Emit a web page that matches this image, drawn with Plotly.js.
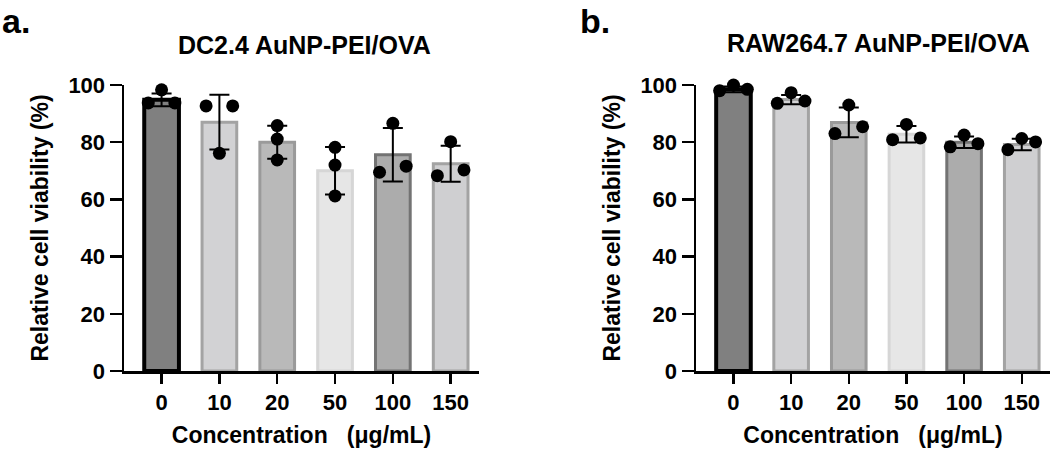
<!DOCTYPE html>
<html>
<head>
<meta charset="utf-8">
<script src="https://cdn.plot.ly/plotly-3.0.1.min.js"></script>
<style>html,body{margin:0;padding:0;background:#fff;}#chart{width:1063px;height:449px;}</style>
</head>
<body>
<div id="chart"></div>
<script>
// ---- data ----
const categories = ["0", "10", "20", "50", "100", "150"];

// Panel a: DC2.4 AuNP-PEI/OVA
const meanA = [94.8, 87.0, 80.0, 70.0, 75.6, 72.5];
const sdA   = [2.2, 9.55, 5.75, 8.3, 9.35, 6.3];
const pointsA = [
  [93.7, 98.3, 93.7],
  [92.7, 76.1, 92.7],
  [85.8, 81.1, 73.8],
  [78.2, 72.0, 61.2],
  [69.5, 86.6, 71.6],
  [68.3, 80.2, 70.3]
];

// Panel b: RAW264.7 AuNP-PEI/OVA
const meanB = [98.5, 94.9, 86.9, 82.8, 80.0, 79.2];
const sdB   = [1.0, 1.6, 5.2, 2.9, 2.0, 2.0];
const pointsB = [
  [98.0, 100.0, 98.5],
  [93.6, 97.3, 94.4],
  [83.0, 93.0, 85.4],
  [80.9, 86.2, 81.5],
  [78.4, 82.5, 79.5],
  [77.4, 81.3, 80.1]
];

// ---- style ----
const jitterA = [[-0.23,0,0.23],[-0.23,0,0.23],[0,0,0],[0,0,0],[-0.23,0,0.23],[-0.23,0,0.23]];
const jitterB = [[-0.24,0,0.24],[-0.24,0,0.24],[-0.24,0,0.24],[-0.24,0,0.24],[-0.24,0,0.24],[-0.24,0,0.24]];
const fillColors = ["#808080", "#d2d2d4", "#b9b9b9", "#e6e6e6", "#acacac", "#cfcfd1"];
const lineColors = ["#000000", "#a3a3a3", "#9a9a9a", "#d6d6d6", "#737373", "#a3a3a3"];
const lineWidths = [4, 3, 3, 3, 3, 3];
const FONT = "Liberation Sans, Arial, Helvetica, sans-serif";
const idx = categories.map((c, i) => i);

function barTrace(means, sds, xa, ya) {
  return {
    type: "bar", x: idx, y: means, xaxis: xa, yaxis: ya, width: 0.6,
    marker: { color: fillColors, line: { color: lineColors, width: lineWidths } },
    error_y: { type: "data", array: sds, visible: true, color: "#000", thickness: 2, width: 10 },
    hoverinfo: "skip", showlegend: false
  };
}
function pointTrace(points, jit, xa, ya) {
  const xs = [], ys = [];
  points.forEach((p, i) => p.forEach((v, j) => { xs.push(i + jit[i][j]); ys.push(v); }));
  return {
    type: "scatter", mode: "markers", x: xs, y: ys, xaxis: xa, yaxis: ya,
    marker: { color: "#000", size: 13 }, cliponaxis: false,
    hoverinfo: "skip", showlegend: false
  };
}

const xCommon = {
  range: [-0.65, 5.49], tickvals: idx, ticktext: categories,
  showline: true, linecolor: "#000", linewidth: 2.5, zeroline: false, showgrid: false,
  ticks: "outside", ticklen: 10, tickwidth: 2.5, tickcolor: "#000",
  tickfont: { family: FONT, size: 22, color: "#000", weight: "bold" },
  title: { text: "Concentration\u00a0\u00a0\u00a0(\u03bcg/mL)", standoff: 13,
           font: { family: FONT, size: 23, color: "#000", weight: "bold" } },
  fixedrange: true
};
const yCommon = {
  range: [0, 100], tickvals: [0, 20, 40, 60, 80, 100],
  showline: true, linecolor: "#000", linewidth: 2.5, zeroline: false, showgrid: false,
  ticks: "outside", ticklen: 12, tickwidth: 2.5, tickcolor: "#000",
  tickfont: { family: FONT, size: 22, color: "#000", weight: "bold" },
  title: { text: "Relative cell viability (%)", standoff: 14,
           font: { family: FONT, size: 23, color: "#000", weight: "bold" } },
  fixedrange: true
};

const W = 1063, H = 449;
const yDom = [(H - 371) / H, (H - 85) / H];
const layout = {
  width: W, height: H, margin: { l: 0, r: 0, t: 0, b: 0 },
  paper_bgcolor: "#fff", plot_bgcolor: "rgba(0,0,0,0)",
  font: { family: FONT, color: "#000" },
  bargap: 0.4,
  xaxis: Object.assign({}, xCommon, { domain: [124 / W, 479 / W], anchor: "y" }),
  yaxis: Object.assign({}, yCommon, { domain: yDom, anchor: "x" }),
  xaxis2: Object.assign({}, xCommon, { domain: [696 / W, 1050 / W], anchor: "y2" }),
  yaxis2: Object.assign({}, yCommon, { domain: yDom, anchor: "x2" }),
  annotations: [
    { text: "a.", xref: "paper", yref: "paper", x: 0 / W, y: 1, xanchor: "left", yanchor: "top",
      showarrow: false, font: { family: FONT, size: 34, color: "#000", weight: "bold" } },
    { text: "b.", xref: "paper", yref: "paper", x: 578 / W, y: 1, xanchor: "left", yanchor: "top",
      showarrow: false, font: { family: FONT, size: 34, color: "#000", weight: "bold" } },
    { text: "DC2.4 AuNP-PEI/OVA", xref: "paper", yref: "paper", x: 304 / W, y: 1 - 45 / H, xanchor: "center", yanchor: "middle",
      showarrow: false, font: { family: FONT, size: 25, color: "#000", weight: "bold" } },
    { text: "RAW264.7 AuNP-PEI/OVA", xref: "paper", yref: "paper", x: 878 / W, y: 1 - 43 / H, xanchor: "center", yanchor: "middle",
      showarrow: false, font: { family: FONT, size: 25, color: "#000", weight: "bold" } }
  ]
};

Plotly.newPlot("chart", [
  barTrace(meanA, sdA, "x", "y"),
  barTrace(meanB, sdB, "x2", "y2"),
  pointTrace(pointsA, jitterA, "x", "y"),
  pointTrace(pointsB, jitterB, "x2", "y2")
], layout, { staticPlot: true, displayModeBar: false });
</script>
</body>
</html>
